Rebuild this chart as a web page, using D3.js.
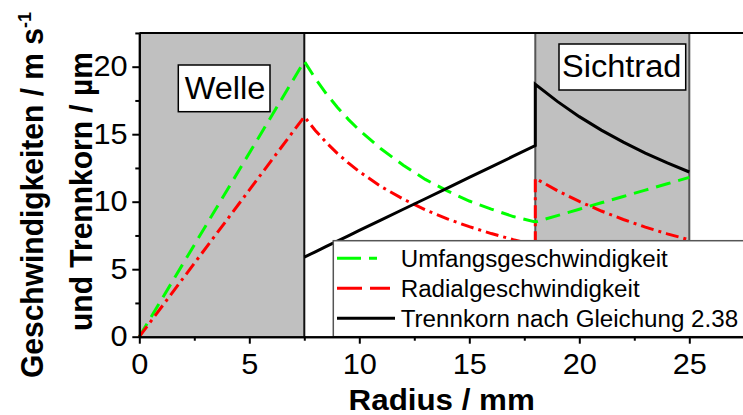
<!DOCTYPE html>
<html>
<head>
<meta charset="utf-8">
<script src="https://cdn.jsdelivr.net/npm/d3@7"></script>
<style>
  html, body { margin: 0; padding: 0; background: #fff; }
  svg { display: block; }
  text { font-family: "Liberation Sans", Arial, sans-serif; fill: #000; }
</style>
</head>
<body>
<svg id="chart" width="743" height="415"></svg>
<script>
// Zones along the radius (mm)
const welleZone = [0, 7.5];
const sichtradZone = [18, 25];

// Shaft region: both speeds rise linearly
const radiusWelle = [0, 7.5];
const umfangWelle = [0, 20.4];
const radialWelle = [0, 16.3];

// Gap between shaft and classifier wheel
const radiusSpalt = [7.5, 8, 8.5, 9, 9.5, 10, 11, 12, 13, 14, 15, 16, 17, 18];
const umfangSpalt = [20.4, 19.13, 18.0, 17.0, 16.1, 15.3, 13.9, 12.7, 11.65, 10.8, 10.05, 9.45, 8.9, 8.5];
const radialSpalt = [16.3, 15.28, 14.38, 13.58, 12.87, 12.23, 11.11, 10.19, 9.4, 8.73, 8.15, 7.64, 7.19, 6.79];
const trennSpalt  = [5.9, 6.29, 6.69, 7.08, 7.47, 7.87, 8.65, 9.44, 10.22, 11.01, 11.8, 12.58, 13.37, 14.15];

// Classifier wheel
const radiusRad = [18, 19, 20, 21, 22, 23, 24, 25];
const umfangRad = [8.5, 8.97, 9.44, 9.92, 10.39, 10.86, 11.33, 11.8];
const radialRad = [11.73, 10.82, 10.02, 9.31, 8.68, 8.12, 7.62, 7.17];
const trennRad  = [18.7, 17.43, 16.3, 15.3, 14.41, 13.6, 12.87, 12.2];

const xMajorTicks = [0, 5, 10, 15, 20, 25];
const xMinorTicks = [2.5, 7.5, 12.5, 17.5, 22.5, 27.5];
const yMajorTicks = [0, 5, 10, 15, 20];
const yMinorTicks = [2.5, 7.5, 12.5, 17.5, 22.5];

const legendLabels = ["Umfangsgeschwindigkeit", "Radialgeschwindigkeit", "Trennkorn nach Gleichung 2.38"];

const zip = (rs, vs) => rs.map((r, i) => [r, vs[i]]);
const umfangSeries = [...zip(radiusWelle, umfangWelle), ...zip(radiusSpalt, umfangSpalt), ...zip(radiusRad, umfangRad)];
const radialSeries = [...zip(radiusWelle, radialWelle), ...zip(radiusSpalt, radialSpalt), ...zip(radiusRad, radialRad)];
const trennSeries  = [...zip(radiusSpalt, trennSpalt), ...zip(radiusRad, trennRad)];

const svg = d3.select("#chart");
const x = d3.scaleLinear().domain([0, 27.5]).range([139.3, 744.3]);
const y = d3.scaleLinear().domain([0, 22.5]).range([336.7, 32.95]);

svg.append("rect").attr("width", 743).attr("height", 415).attr("fill", "#fff");

// Shaded zones
const zoneTop = y(22.5), zoneBottom = y(0);
[welleZone, sichtradZone].forEach(z => {
  svg.append("rect")
    .attr("x", x(z[0])).attr("y", zoneTop)
    .attr("width", x(z[1]) - x(z[0])).attr("height", zoneBottom - zoneTop)
    .attr("fill", "#c0c0c0");
});
svg.append("line")
  .attr("x1", x(welleZone[1])).attr("x2", x(welleZone[1]))
  .attr("y1", zoneTop).attr("y2", zoneBottom)
  .attr("stroke", "#111").attr("stroke-width", 2);
sichtradZone.forEach(v => {
  svg.append("line")
    .attr("x1", x(v)).attr("x2", x(v))
    .attr("y1", zoneTop).attr("y2", zoneBottom)
    .attr("stroke", "#555").attr("stroke-width", 2);
});

// Curves
const line = d3.line().x(d => x(d[0])).y(d => y(d[1]));
svg.append("path").datum(umfangSeries).attr("d", line)
  .attr("fill", "none").attr("stroke", "#00ff00").attr("stroke-width", 3)
  .attr("stroke-dasharray", "15,8");
svg.append("path").datum(radialSeries).attr("d", line)
  .attr("fill", "none").attr("stroke", "#ff0000").attr("stroke-width", 3)
  .attr("stroke-dasharray", "13,5,3,5");
svg.append("path").datum(trennSeries).attr("d", line)
  .attr("fill", "none").attr("stroke", "#000").attr("stroke-width", 3);

// Legend
const leg = svg.append("g");
leg.append("rect").attr("x", 333.3).attr("y", 240.7)
  .attr("width", 420).attr("height", zoneBottom - 240.7)
  .attr("fill", "#fff").attr("stroke", "#555").attr("stroke-width", 1.5);
const legStyles = [
  { color: "#00ff00", dash: "24,8", x2: 377 },
  { color: "#ff0000", dash: "25,8,20,100", x2: 390 },
  { color: "#000", dash: null, x2: 395 }
];
legendLabels.forEach((lab, i) => {
  const cy = 258.3 + i * 30;
  const s = legStyles[i];
  leg.append("line").attr("x1", 337).attr("x2", s.x2).attr("y1", cy).attr("y2", cy)
    .attr("stroke", s.color).attr("stroke-width", 3)
    .attr("stroke-dasharray", s.dash);
  leg.append("text")
    .attr("transform", `translate(400.7,${cy + 8.4}) scale(1.05,1)`)
    .attr("font-size", 23).text(lab);
});

// Zone labels
function zoneLabel(txt, bx, by, bw, bh, cx, base) {
  svg.append("rect").attr("x", bx).attr("y", by).attr("width", bw).attr("height", bh)
    .attr("fill", "#fff").attr("stroke", "#000").attr("stroke-width", 1.5);
  svg.append("text").attr("transform", `translate(${cx},${base}) scale(1.05,1)`)
    .attr("text-anchor", "middle").attr("font-size", 31).text(txt);
}
zoneLabel("Welle", 178.3, 65, 91.7, 46.7, 225, 99.3);
zoneLabel("Sichtrad", 559, 44, 126.7, 46, 621.7, 76.7);

// Axes
const axisStyle = g => {
  g.select(".domain").attr("stroke", "#000").attr("stroke-width", 2);
  g.selectAll(".tick line").attr("stroke", "#000").attr("stroke-width", 2);
};
const gx = svg.append("g").attr("transform", `translate(0,${zoneBottom})`)
  .call(d3.axisBottom(x).tickValues(xMajorTicks).tickSize(7).tickPadding(10).tickSizeOuter(0))
  .call(axisStyle);
gx.selectAll(".tick text").attr("font-size", 29).attr("font-family", "Liberation Sans, Arial, sans-serif")
  .attr("transform", "scale(1.06,1)");
svg.append("g").attr("transform", `translate(0,${zoneBottom})`)
  .call(d3.axisBottom(x).tickValues(xMinorTicks).tickSize(4).tickFormat("").tickSizeOuter(0))
  .call(axisStyle);

const gy = svg.append("g").attr("transform", `translate(${x(0)},0)`)
  .call(d3.axisLeft(y).tickValues(yMajorTicks).tickSize(7).tickPadding(4).tickSizeOuter(0))
  .call(axisStyle);
gy.selectAll(".tick text").attr("font-size", 29).attr("font-family", "Liberation Sans, Arial, sans-serif")
  .attr("transform", "scale(1.06,1)");
svg.append("g").attr("transform", `translate(${x(0)},0)`)
  .call(d3.axisLeft(y).tickValues(yMinorTicks).tickSize(4).tickFormat("").tickSizeOuter(0))
  .call(axisStyle);

// Frame top and right
svg.append("line").attr("x1", x(0)).attr("x2", x(27.5)).attr("y1", zoneTop).attr("y2", zoneTop)
  .attr("stroke", "#000").attr("stroke-width", 2);
svg.append("line").attr("x1", x(27.5)).attr("x2", x(27.5)).attr("y1", zoneTop).attr("y2", zoneBottom)
  .attr("stroke", "#000").attr("stroke-width", 2);

// Axis titles
svg.append("text").attr("transform", "translate(441.7,410) scale(1.08,1)")
  .attr("text-anchor", "middle").attr("font-size", 29).attr("font-weight", "bold")
  .text("Radius / mm");

const t1 = svg.append("text").attr("transform", "translate(43.3,195) scale(1.06,1) rotate(-90)")
  .attr("text-anchor", "middle").attr("font-size", 30).attr("font-weight", "bold");
t1.append("tspan").text("Geschwindigkeiten / m s");
t1.append("tspan").attr("font-size", 18).attr("dy", -12).text("-1");

svg.append("text").attr("transform", "translate(91.7,191.5) scale(1.06,1) rotate(-90)")
  .attr("text-anchor", "middle").attr("font-size", 30).attr("font-weight", "bold")
  .text("und Trennkorn / µm");
</script>
</body>
</html>
